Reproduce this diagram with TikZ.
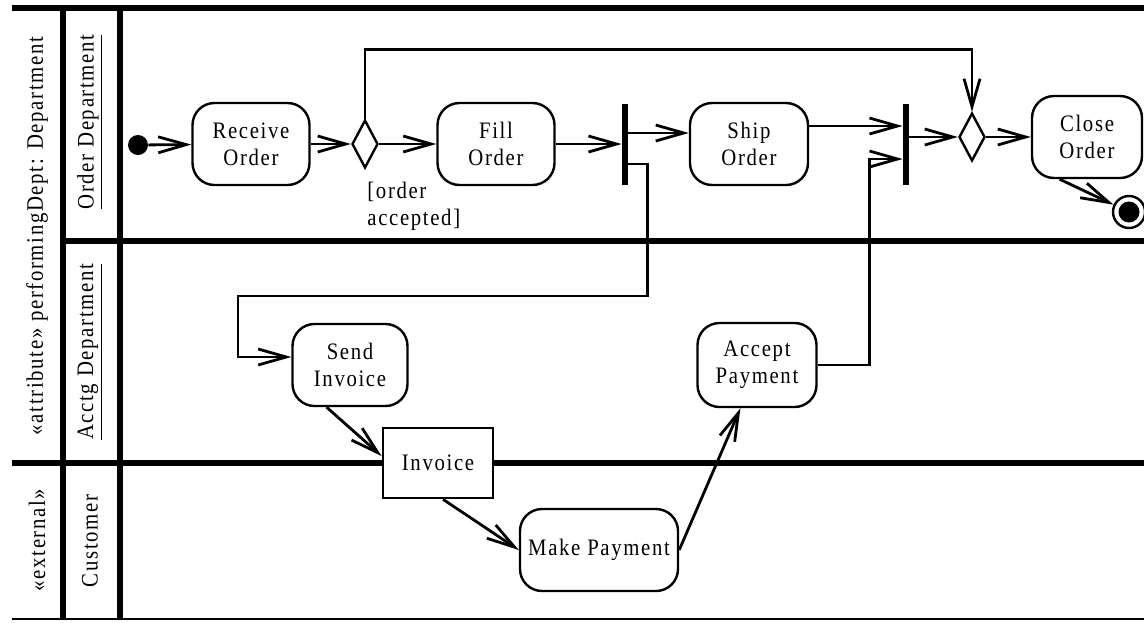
\documentclass[tikz,border=0pt]{standalone}
\usepackage{fontspec}
\setmainfont{Liberation Serif}[LetterSpace=7, FakeStretch=0.88]
\usetikzlibrary{arrows.meta, shapes.geometric}

\begin{document}
\begin{tikzpicture}[x=0.5pt, y=-0.5pt,
    every node/.style={font=\fontsize{11.8pt}{13.5pt}\selectfont},
    activity/.style={draw, line width=1.2pt, rounded corners=11pt, align=center, inner sep=0pt, minimum height=41pt},
    decision/.style={draw, diamond, line width=1.2pt, inner sep=0pt, minimum width=13pt, minimum height=24pt},
    syncbar/.style={fill=black, inner sep=0pt, minimum width=3pt, minimum height=40.5pt},
    flow/.style={-{Straight Barb[length=14pt,width=8pt]}, line width=1.4pt},
    lane/.style={line width=2.6pt}]
        \useasboundingbox (0,0) rectangle (1144,622);

        % swimlanes
        \draw[lane] (12,8) -- (1144,8);
        \draw[lane] (63,241) -- (1144,241);
        \draw[lane] (12,463) -- (1144,463);
        \draw[line width=1pt] (12,619) -- (1144,619);
        \draw[lane] (63,8) -- (63,619);
        \draw[lane] (120,8) -- (120,619);

        \node[rotate=90] (deptlbl) at (37,236) {«attribute» performingDept: Department};
        \node[rotate=90] (extlbl) at (37,540) {«external»};
        \node[rotate=90] (orderlane) at (90,122) {\underline{Order Department}};
        \node[rotate=90] (acctglane) at (90,352) {\underline{Acctg Department}};
        \node[rotate=90] (custlane) at (90,541) {Customer};

        % order department
        \node[circle, fill=black, inner sep=0pt, minimum size=10pt] (init) at (138,145) {};
        \node[activity, minimum width=58.5pt] (recv) at (251,144) {Receive\\Order};
        \node[decision] (dec1) at (365,144) {};
        \node[activity, minimum width=58.5pt] (fill) at (496,144) {Fill\\Order};
        \node[syncbar] (bar1) at (625,144) {};
        \node[activity, minimum width=59pt] (ship) at (749,144) {Ship\\Order};
        \node[syncbar] (bar2) at (906,144) {};
        \node[decision] (dec2) at (972,137) {};
        \node[activity, minimum width=55pt] (close) at (1087,137) {Close\\Order};
        \node[circle, draw, line width=1.2pt, minimum size=16pt] (final) at (1129,212) {};
        \node[circle, fill=black, inner sep=0pt, minimum size=10.5pt] (finaldot) at (final) {};
        \node[anchor=north west, align=left, inner sep=0pt] (guard) at (367,182) {[order\\accepted]};

        % accounting and customer
        \node[activity, minimum width=57.5pt] (send) at (350,365) {Send\\Invoice};
        \node[draw, fill=white, line width=1.4pt, minimum width=55pt, minimum height=35pt] (invoice) at (438,463) {Invoice};
        \node[activity, minimum width=79pt] (makepay) at (599,550) {Make Payment};
        \node[activity, minimum width=59.5pt, minimum height=42pt] (accept) at (757,365) {Accept\\Payment};

        \draw[flow] (init) -- (recv);
        \draw[flow] (recv) -- (dec1);
        \draw[flow] (dec1) -- (fill);
        \draw[flow] (fill) -- (bar1);
        \draw[flow] (dec1.north) -- ++(0,-69) -| (dec2.north);
        \draw[flow] ([yshift=5.5pt]bar1.east) -- ([yshift=5.5pt]ship.west);
        \draw[flow] ([yshift=-10pt]bar1.east) -- ++(19,0) |- (238,296) |- ([yshift=4pt]send.west);
        \draw[flow] ([yshift=9pt]ship.east) -- ([yshift=9pt]bar2.west);
        \draw[flow] (accept.east) -- ++(52,0) |- ([yshift=-7.5pt]bar2.west);
        \draw[flow] ([yshift=3.5pt]bar2.east) -- (dec2.west);
        \draw[flow] (dec2) -- (close);
        \draw[flow] (close.-123) -- (final);
        \draw[flow] (send.-119) -- (invoice.173);
        \draw[flow] (invoice.-82) -- (makepay.west);
        \draw[flow] (makepay.east) -- (accept.-111);
\end{tikzpicture}
\end{document}
